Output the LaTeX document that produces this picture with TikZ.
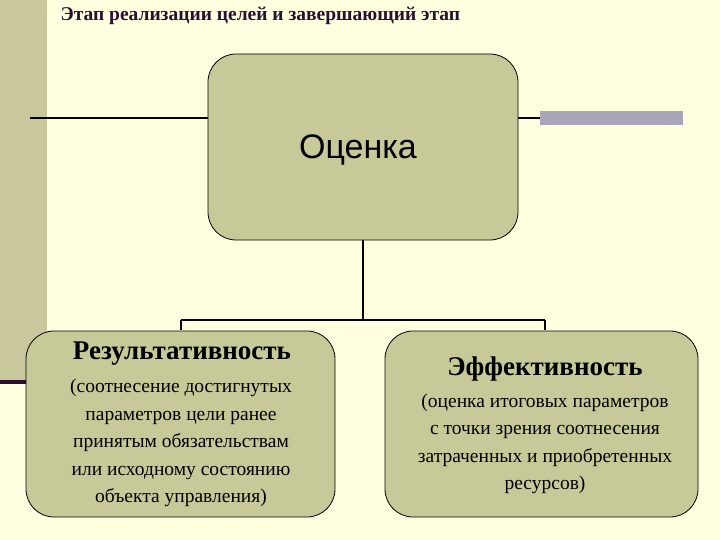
\documentclass[tikz,border=0pt]{standalone}
\usepackage{fontspec}
\setmainfont{Liberation Serif}
\setsansfont{Liberation Sans}
\begin{document}
\begin{tikzpicture}[x=1pt,y=-1pt,
  box/.style={draw=black,line width=0.8pt,fill=boxc,rounded corners=28pt},
  ln/.style={line width=1.2pt,draw=black}]
\definecolor{bgc}{HTML}{FFFFE0}
\definecolor{boxc}{HTML}{C8C998}
\definecolor{strip}{HTML}{C8C89C}
\definecolor{barc}{HTML}{A8A6B8}
\definecolor{purp}{HTML}{2A1030}
\useasboundingbox (0,0) rectangle (720,540);
\fill[bgc] (0,0) rectangle (720,540);
\fill[strip] (0,0) rectangle (47,381);
\fill[purp] (0,380) rectangle (26,384);
\node[anchor=west,font=\bfseries\fontsize{19.5}{22}\selectfont,text=purp] (title) at (57,16) {Этап реализации целей и завершающий этап};
\fill[barc] (540,111) rectangle (683,125);
\coordinate (l1) at (30,118);
\coordinate (r1) at (540,118);
\draw[ln] (l1) -- (r1);
\node[box,minimum width=310pt,minimum height=186pt] (oc) at (363,147) {};
\node[font=\sffamily\fontsize{34}{40}\selectfont] at (358,150) {Оценка};
\coordinate (j) at (363,320);
\coordinate (jl) at (181,320);
\coordinate (jr) at (545,320);
\draw[ln] (oc.south) -- (j);
\draw[ln] (jl) -- (jr);
\draw[ln] (jl) -- ++(0,10);
\draw[ln] (jr) -- ++(0,10);
\node[box,minimum width=309pt,minimum height=186pt] (res) at (180.5,424) {};
\node[box,minimum width=313pt,minimum height=186pt] (eff) at (541.5,424) {};
\node[font=\bfseries\fontsize{27}{30}\selectfont] at (182,354) {Результативность};
\node[align=center,font=\fontsize{19.5}{27.5}\selectfont] at (181,443) {(соотнесение достигнутых\\параметров цели ранее\\принятым обязательствам\\или исходному состоянию\\объекта управления)};
\node[font=\bfseries\fontsize{27}{30}\selectfont] at (545,369) {Эффективность};
\node[align=center,font=\fontsize{19.5}{27.5}\selectfont] at (545,444) {(оценка итоговых параметров\\с точки зрения соотнесения\\затраченных и приобретенных\\ресурсов)};
\end{tikzpicture}
\end{document}
